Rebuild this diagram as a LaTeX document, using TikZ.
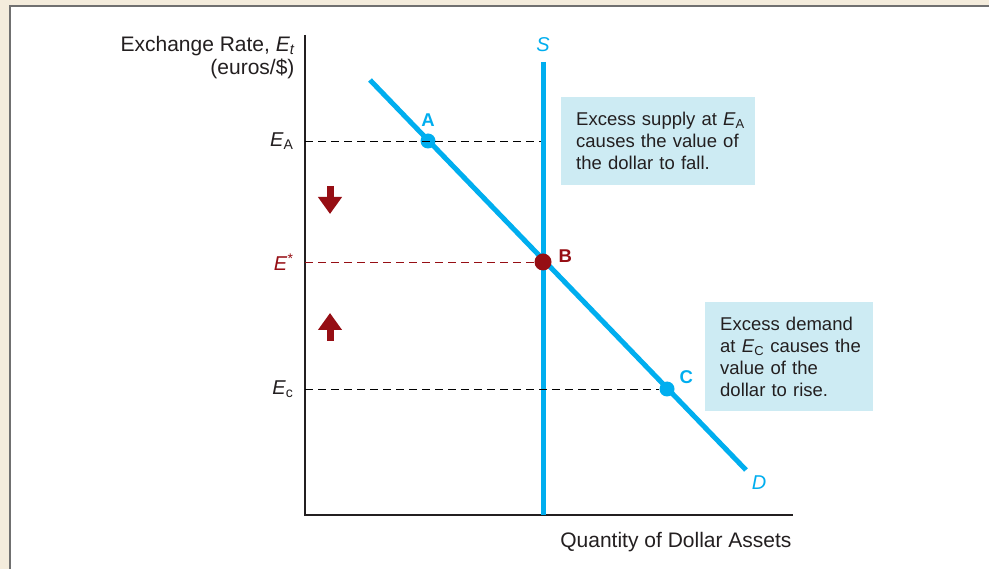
\documentclass[tikz,border=0pt]{standalone}
\usepackage{fontspec}
\setmainfont{Liberation Sans}
\usepackage{xcolor}
\usetikzlibrary{arrows.meta, positioning}
\definecolor{curvecyan}{HTML}{00AEEF}
\definecolor{eqred}{HTML}{960E14}
\definecolor{notefill}{HTML}{CDEBF3}
\definecolor{pagebeige}{HTML}{F4ECDC}
\definecolor{framegrey}{HTML}{707070}
\definecolor{textgrey}{HTML}{231F20}

\begin{document}
\begin{tikzpicture}[x=1pt, y=-1pt,
  every node/.style={font=\fontsize{21}{23}\selectfont, text=textgrey},
  notefont/.style={font=\fontsize{18.5}{22}\selectfont},
  labfont/.style={font=\fontsize{18.5}{22}\selectfont\bfseries},
  ratefont/.style={font=\fontsize{20}{22}\selectfont},
  curve/.style={curvecyan, line width=5pt},
  guide/.style={dashed, dash pattern=on 8pt off 5pt, line width=0.9pt},
  dot/.style={circle, fill=curvecyan, inner sep=0pt, minimum size=15pt},
  note/.style={fill=notefill, anchor=north west, align=left, notefont, inner xsep=15pt, inner ysep=0pt},
  shift arrow/.style={eqred, line width=7pt, -{Triangle[length=17pt, width=23pt]}}]
\useasboundingbox (0,0) rectangle (989,569);
% Frame
\fill[pagebeige] (0,0) rectangle (989,569);
\fill[white, draw=framegrey, line width=2pt] (10,6) rectangle (1010,590);

% Axes
\coordinate (origin) at (305,515);
\coordinate (ytop) at (305,35);
\coordinate (xend) at (793,515);
\draw[line width=1.2pt, textgrey] (ytop) -- (origin) -- (xend);
\node[anchor=north east, align=right] (ylabel) at (298,33) {Exchange Rate, \textit{E\textsubscript{t}}\\(euros/\$)};
\node[anchor=north east] (xlabel) at (795,529) {Quantity of Dollar Assets};

% Supply and demand
\coordinate (stop) at (543,62);
\coordinate (sbot) at (543,515);
\coordinate (dtop) at (370,80);
\coordinate (dbot) at (746,470);
\draw[curve] (stop) -- (sbot);
\draw[curve] (dtop) -- (dbot);
\node[text=curvecyan, ratefont] (slabel) at (543,45) {\textit{S}};
\node[text=curvecyan, ratefont] (dlabel) at (759,483) {\textit{D}};

% Points on the curves
\node[dot] (ptA) at (428,141) {};
\node[dot] (ptC) at (667,389) {};
\node[dot, fill=eqred, minimum size=17pt] (ptB) at (543,262) {};
\node[text=curvecyan, labfont, above=3pt of ptA] (labA) {A};
\node[text=eqred, labfont, anchor=west] (labB) at (555,256) {B};
\node[text=curvecyan, labfont, anchor=west] (labC) at (676,377) {C};

% Rate levels
\coordinate (eA) at (305,141);
\coordinate (eS) at (305,262);
\coordinate (eC) at (305,389);
\node[anchor=east, ratefont] (labEA) at (297,141) {\textit{E}\textsubscript{A}};
\node[anchor=east, ratefont, text=eqred] (labES) at (297,262) {\textit{E}\textsuperscript{*}};
\node[anchor=east, ratefont] (labEC) at (297,389) {\textit{E}\textsubscript{c}};
\draw[guide] (eA) -- (541,141);
\draw[guide, eqred] (eS) -- (ptB);
\draw[guide] (eC) -- (ptC);

% Adjustment arrows
\coordinate (downtop) at (330,186);
\coordinate (downtip) at (330,214);
\coordinate (uptop) at (330,313);
\coordinate (upbot) at (330,341);
\draw[shift arrow] (downtop) -- (downtip);
\draw[shift arrow] (upbot) -- (uptop);

% Notes
\node[note, text width=164pt, minimum height=88pt] (noteA) at (561,97)
  {\mbox{Excess supply at \textit{E}\textsubscript{A}}\\\mbox{causes the value of}\\\mbox{the dollar to fall.}};
\node[note, text width=138pt, minimum height=109pt] (noteC) at (705,302)
  {\mbox{Excess demand}\\\mbox{at \textit{E}\textsubscript{C} causes the}\\\mbox{value of the}\\\mbox{dollar to rise.}};
\end{tikzpicture}
\end{document}
